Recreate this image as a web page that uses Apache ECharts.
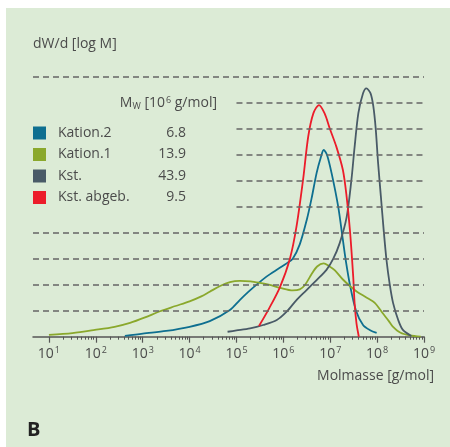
<!DOCTYPE html>
<html>
<head>
<meta charset="utf-8">
<script src="https://cdn.jsdelivr.net/npm/echarts@6/dist/echarts.min.js"></script>
<style>
  html, body { margin: 0; padding: 0; background: #fff; }
  #main { width: 450px; height: 447px; }
</style>
</head>
<body>
<div id="main"></div>
<script>
// x values are log10 of the molar mass, y values dW/d(log M)
var kation2LogM = [2.62, 3.0, 3.5, 4.0, 4.43, 4.86, 5.07, 5.3, 5.64, 5.9, 6.07, 6.2, 6.35, 6.5, 6.6, 6.71, 6.8, 6.86, 6.93, 7.03, 7.17, 7.27, 7.33, 7.42, 7.55, 7.7, 7.85, 7.99];
var kation2Val  = [0.03, 0.12, 0.22, 0.38, 0.6, 1.03, 1.41, 1.8, 2.31, 2.62, 2.82, 3.0, 3.55, 4.5, 5.3, 6.3, 6.9, 7.18, 7.0, 6.28, 5.0, 3.72, 2.95, 2.0, 1.0, 0.45, 0.25, 0.15];

var kation1LogM = [1.0, 1.5, 1.98, 2.4, 2.73, 3.05, 3.37, 3.7, 4.0, 4.25, 4.43, 4.65, 4.86, 5.07, 5.3, 5.5, 5.71, 5.93, 6.2, 6.35, 6.46, 6.6, 6.72, 6.86, 6.97, 7.1, 7.27, 7.45, 7.57, 7.78, 7.95, 8.12, 8.25, 8.33, 8.5, 8.7, 8.93];
var kation1Val  = [0.07, 0.14, 0.26, 0.38, 0.53, 0.74, 0.98, 1.18, 1.36, 1.55, 1.73, 1.95, 2.1, 2.15, 2.13, 2.07, 1.99, 1.88, 1.78, 1.82, 1.99, 2.4, 2.7, 2.82, 2.72, 2.55, 2.2, 1.9, 1.73, 1.5, 1.3, 0.9, 0.6, 0.4, 0.15, 0.05, 0.0];

var kstLogM = [4.81, 5.0, 5.29, 5.57, 5.86, 6.07, 6.28, 6.5, 6.71, 6.92, 7.06, 7.2, 7.35, 7.45, 7.52, 7.6, 7.7, 7.77, 7.86, 7.92, 7.97, 8.02, 8.08, 8.14, 8.2, 8.27, 8.34, 8.45, 8.55, 8.73];
var kstVal  = [0.19, 0.24, 0.32, 0.45, 0.64, 0.96, 1.41, 1.8, 2.18, 2.57, 2.98, 3.59, 4.6, 6.0, 7.3, 8.6, 9.36, 9.55, 9.36, 8.85, 8.0, 6.7, 5.4, 4.1, 2.95, 2.0, 1.3, 0.64, 0.26, 0.03];

var kstAbgebLogM = [5.48, 5.7, 5.93, 6.14, 6.28, 6.42, 6.53, 6.64, 6.76, 6.88, 6.99, 7.13, 7.27, 7.35, 7.42, 7.49, 7.52, 7.56, 7.61];
var kstAbgebVal  = [0.41, 1.1, 1.92, 3.0, 4.23, 6.03, 7.69, 8.59, 8.91, 8.59, 8.01, 7.31, 6.41, 5.38, 4.1, 2.31, 1.28, 0.51, 0.0];

var seriesNames = ['Kation.2', 'Kation.1', 'Kst.', 'Kst. abgeb.'];
var mwValues = ['6.8', '13.9', '43.9', '9.5'];
var seriesColors = ['#0e6f90', '#8aa82c', '#495a67', '#ec1c2a'];

var decadeExponents = [1, 2, 3, 4, 5, 6, 7, 8, 9];
var minorTickFactors = [2, 3, 4, 5, 6, 7, 8, 9];
var fullGridLevels = [1, 2, 3, 4, 10];
var partialGridLevels = [5, 6, 7, 8, 9];

var xMin = 0.66, xMax = 9, partialStart = 5;

function pairs(xs, ys) {
    return xs.map(function (x, i) { return [x, ys[i]]; });
}

var minorTicks = [];
decadeExponents.slice(0, -1).forEach(function (e) {
    minorTickFactors.forEach(function (k) {
        minorTicks.push(e + Math.log10(k));
    });
});

var gridLines = [];
fullGridLevels.forEach(function (v) {
    gridLines.push([{coord: [xMin, v]}, {coord: [xMax, v]}]);
});
partialGridLevels.forEach(function (v) {
    gridLines.push([{coord: [partialStart, v]}, {coord: [xMax, v]}]);
});

var textColor = '#4b4b4b';
var font = '"Open Sans", "Noto Sans", sans-serif';

var chart = echarts.init(document.getElementById('main'));

var valueByName = {};
seriesNames.forEach(function (n, i) { valueByName[n] = mwValues[i]; });

var curveData = [
    pairs(kation2LogM, kation2Val),
    pairs(kation1LogM, kation1Val),
    pairs(kstLogM, kstVal),
    pairs(kstAbgebLogM, kstAbgebVal)
];

var series = [{
    name: 'grid',
    type: 'line',
    data: [],
    z: 1,
    silent: true,
    markLine: {
        silent: true,
        symbol: ['none', 'none'],
        label: {show: false},
        lineStyle: {color: '#666', width: 1.6, type: [6, 4]},
        data: gridLines
    }
}];
seriesNames.forEach(function (name, i) {
    series.push({
        name: name,
        type: 'line',
        data: curveData[i],
        smooth: 0.3,
        showSymbol: false,
        z: 3,
        lineStyle: {color: seriesColors[i], width: 1.8},
        itemStyle: {color: seriesColors[i]}
    });
});

chart.setOption({
    backgroundColor: '#ffffff',
    animation: false,
    textStyle: {fontFamily: font},
    grid: {left: 33, right: 26, top: 76.7, bottom: 110.3},
    xAxis: [{
        type: 'value',
        min: xMin,
        max: xMax,
        position: 'bottom',
        axisLine: {show: true, lineStyle: {color: '#555', width: 1.5}},
        axisTick: {show: true, length: 6, customValues: decadeExponents, lineStyle: {color: '#555', width: 1.2}},
        axisLabel: {
            show: true,
            customValues: decadeExponents,
            margin: 9,
            color: textColor,
            fontFamily: font,
            formatter: function (v) { return '{b|10}{e|' + v + '}'; },
            rich: {
                b: {fontSize: 14, color: textColor, fontFamily: font},
                e: {fontSize: 9, color: textColor, fontFamily: font, verticalAlign: 'top', padding: [0, 0, 7, 1]}
            }
        },
        splitLine: {show: false}
    }, {
        type: 'value',
        min: xMin,
        max: xMax,
        position: 'bottom',
        offset: 0,
        axisLine: {show: false},
        axisTick: {show: true, length: 3, customValues: minorTicks, lineStyle: {color: '#555', width: 1}},
        axisLabel: {show: false},
        splitLine: {show: false}
    }],
    yAxis: {
        type: 'value',
        min: 0,
        max: 10,
        show: true,
        axisLine: {show: false},
        axisTick: {show: false},
        axisLabel: {show: false},
        splitLine: {show: false}
    },
    legend: {
        data: seriesNames,
        orient: 'vertical',
        left: 33,
        top: 126,
        padding: 0,
        itemWidth: 13,
        itemHeight: 13,
        itemGap: 7.5,
        icon: 'rect',
        selectedMode: false,
        formatter: function (name) {
            return '{n|' + name + '}{v|' + valueByName[name] + '}';
        },
        textStyle: {
            color: textColor,
            fontFamily: font,
            fontSize: 14,
            padding: [0, 0, 0, 7],
            rich: {
                n: {width: 98, fontSize: 14, color: textColor, fontFamily: font},
                v: {width: 30, align: 'right', fontSize: 14, color: textColor, fontFamily: font}
            }
        }
    },
    graphic: [{
        type: 'rect',
        z: -10,
        silent: true,
        shape: {x: 6, y: 8, width: 444, height: 439},
        style: {fill: '#dcebd6'}
    }, {
        type: 'text',
        left: 33,
        top: 37,
        style: {text: 'dW/d [log M]', fill: textColor, font: '14px ' + font}
    }, {
        type: 'text',
        x: 217,
        y: 103,
        style: {
            text: '{m|M}{s|W}{t| [10}{p|6}{t| g/mol]}',
            align: 'right',
            verticalAlign: 'middle',
            fill: textColor,
            rich: {
                m: {fontSize: 14, fill: textColor, fontFamily: font},
                s: {fontSize: 9, fill: textColor, fontFamily: font, verticalAlign: 'bottom', padding: [6, 0, 0, 0]},
                t: {fontSize: 14, fill: textColor, fontFamily: font},
                p: {fontSize: 9, fill: textColor, fontFamily: font, verticalAlign: 'top', padding: [0, 0, 6, 1]}
            }
        }
    }, {
        type: 'text',
        x: 434,
        y: 376,
        style: {
            text: 'Molmasse [g/mol]',
            align: 'right',
            verticalAlign: 'middle',
            fill: textColor,
            font: '14px ' + font
        }
    }, {
        type: 'text',
        x: 27,
        y: 430,
        style: {
            text: 'B',
            align: 'left',
            verticalAlign: 'middle',
            fill: '#222',
            font: 'bold 20px ' + font
        }
    }],
    series: series
});
</script>
</body>
</html>
